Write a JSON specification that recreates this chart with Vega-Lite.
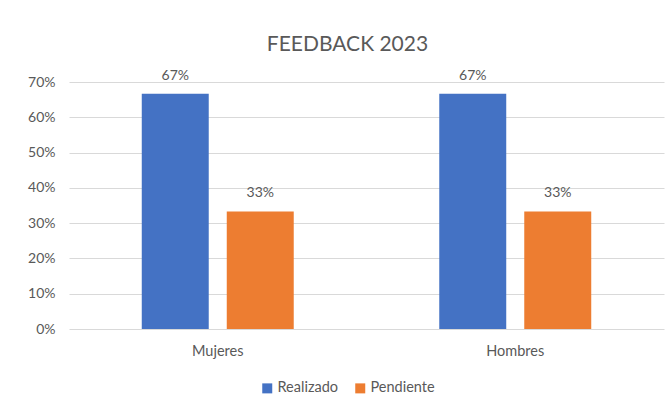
{
  "$schema": "https://vega.github.io/schema/vega-lite/v6.json",
  "autosize": {"type": "none"},
  "padding": {"left": 69, "top": 82, "right": 6, "bottom": 78},
  "width": 595,
  "height": 247,
  "background": "white",
  "title": {
    "text": "FEEDBACK 2023",
    "font": "Lato",
    "fontSize": 21,
    "fontWeight": "normal",
    "color": "#595959",
    "anchor": "middle",
    "dx": -19,
    "offset": 14
  },
  "data": {
    "values": [
      {"grupo": "Mujeres", "estado": "Realizado", "valor": 0.6667},
      {"grupo": "Mujeres", "estado": "Pendiente", "valor": 0.3333},
      {"grupo": "Hombres", "estado": "Realizado", "valor": 0.6667},
      {"grupo": "Hombres", "estado": "Pendiente", "valor": 0.3333}
    ]
  },
  "encoding": {
    "x": {
      "field": "grupo", "type": "nominal", "sort": ["Mujeres", "Hombres"],
      "scale": {"paddingInner": 0, "paddingOuter": 0},
      "axis": {"title": null, "labelAngle": 0, "domain": false, "ticks": false, "labelPadding": 15, "labelFont": "Lato", "labelFontSize": 14.5, "labelColor": "#595959"}
    },
    "xOffset": {
      "field": "estado", "type": "nominal", "sort": ["Realizado", "Pendiente"],
      "scale": {"paddingInner": 0.212, "paddingOuter": 0.856}
    },
    "y": {
      "field": "valor", "type": "quantitative",
      "scale": {"domain": [0, 0.7], "nice": false},
      "axis": {"title": null, "format": ".0%", "values": [0, 0.1, 0.2, 0.3, 0.4, 0.5, 0.6, 0.7], "labelOverlap": false, "labelBound": false, "domain": false, "ticks": false, "labelPadding": 14, "labelFont": "Lato", "labelFontSize": 14, "labelColor": "#595959", "gridColor": "#D9D9D9", "gridWidth": 1}
    }
  },
  "layer": [
    {
      "mark": {"type": "bar"},
      "encoding": {
        "color": {
          "field": "estado", "type": "nominal", "sort": ["Realizado", "Pendiente"],
          "scale": {"domain": ["Realizado", "Pendiente"], "range": ["#4472C4", "#ED7D31"]},
          "legend": {"title": null, "orient": "none", "legendX": 191, "legendY": 299, "direction": "horizontal", "symbolType": "square", "symbolSize": 100, "symbolStrokeWidth": 0, "labelFont": "Lato", "labelFontSize": 14.5, "labelColor": "#595959", "columnPadding": 15, "labelOffset": 3}
        }
      }
    },
    {
      "mark": {"type": "text", "baseline": "bottom", "dy": -11, "font": "Lato", "fontSize": 14, "color": "#595959"},
      "encoding": {
        "text": {"field": "valor", "type": "quantitative", "format": ".0%"}
      }
    }
  ],
  "config": {
    "view": {"stroke": null}
  }
}
